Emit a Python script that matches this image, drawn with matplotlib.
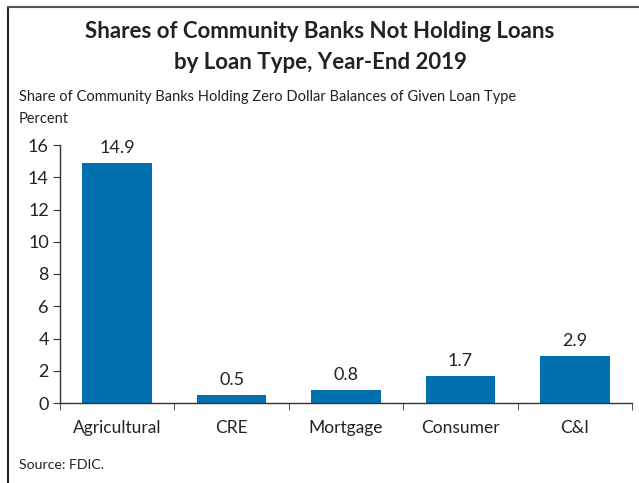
import matplotlib
matplotlib.use("Agg")
import matplotlib.pyplot as plt
from matplotlib.lines import Line2D

categories = ["Agricultural", "CRE", "Mortgage", "Consumer", "C&I"]
values = [14.9, 0.5, 0.8, 1.7, 2.9]
yticks = [0, 2, 4, 6, 8, 10, 12, 14, 16]

title = "Shares of Community Banks Not Holding Loans\nby Loan Type, Year-End 2019"
subtitle = "Share of Community Banks Holding Zero Dollar Balances of Given Loan Type"
unit = "Percent"
source = "Source: FDIC."

plt.rcParams['font.family'] = ['Lato', 'DejaVu Sans']
txt = "#222222"
W, H = 639, 483
fig = plt.figure(figsize=(W/100, H/100), dpi=100)

ax = fig.add_axes([60/W, 1-403/H, (632-60)/W, (403-145)/H])
x = list(range(len(categories)))
ax.bar(x, values, width=0.61, color="#0070AF", zorder=2)
for xi, v in zip(x, values):
    ax.annotate(f"{v:.1f}", (xi, v), xytext=(0, 5), textcoords="offset points",
                ha="center", va="bottom", fontsize=13, color=txt)
ax.set_xlim(-0.5, len(categories)-0.5)
ax.set_ylim(0, 16)
ax.set_yticks(yticks)
ax.set_yticklabels([str(t) for t in yticks], fontsize=13, color=txt)
ax.set_xticks(x)
ax.set_xticklabels(categories, fontsize=12.5, color=txt)
ax.tick_params(axis='x', length=0, pad=12)
ax.set_xticks([i-0.5 for i in range(len(categories)+1)], minor=True)
ax.tick_params(axis='x', which='minor', length=5, direction='out', color="#333333")
ax.tick_params(axis='y', length=5, direction='out', color="#333333", pad=3)
for s in ['top', 'right']:
    ax.spines[s].set_visible(False)
for s in ['left', 'bottom']:
    ax.spines[s].set_color("#333333")
    ax.spines[s].set_linewidth(1.0)

fig.text(320/W, 1-47/H, title, ha="center", va="center", fontsize=16,
         fontweight="bold", color=txt, linespacing=1.6)
fig.text(19/W, 1-97/H, subtitle, ha="left", va="center", fontsize=10.5, color=txt)
fig.text(19/W, 1-119/H, unit, ha="left", va="center", fontsize=10.5, color=txt)
fig.text(19/W, 1-465/H, source, ha="left", va="center", fontsize=10.2, color=txt)

# frame border (top and left)
fig.add_artist(Line2D([8/W, 8/W], [0, 1-7/H], transform=fig.transFigure, color="#222222", lw=1.5))
fig.add_artist(Line2D([8/W, 1], [1-7/H, 1-7/H], transform=fig.transFigure, color="#555555", lw=1.5))

fig.savefig("out.png", dpi=100)
